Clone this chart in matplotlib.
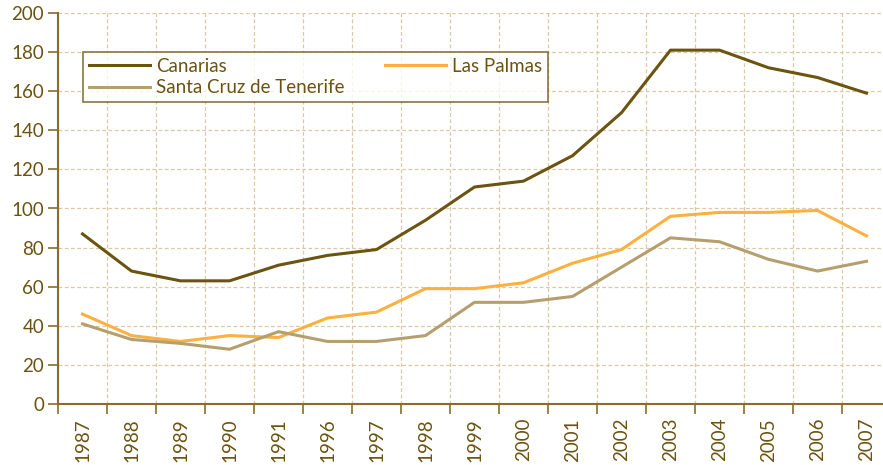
import matplotlib
matplotlib.use("Agg")
import matplotlib.pyplot as plt

years = ["1987", "1988", "1989", "1990", "1991", "1996", "1997", "1998", "1999",
         "2000", "2001", "2002", "2003", "2004", "2005", "2006", "2007"]
canarias = [87, 68, 63, 63, 71, 76, 79, 94, 111, 114, 127, 149, 181, 181, 172, 167, 159]
las_palmas = [46, 35, 32, 35, 34, 44, 47, 59, 59, 62, 72, 79, 96, 98, 98, 99, 86]
santa_cruz = [41, 33, 31, 28, 37, 32, 32, 35, 52, 52, 55, 70, 85, 83, 74, 68, 73]
y_ticks = [0, 20, 40, 60, 80, 100, 120, 140, 160, 180, 200]

plt.rcParams['font.family'] = ['Lato', 'DejaVu Sans']
txt = "#6b5210"
axc = "#8a6d2a"
grid_c = "#dcc9a3"

fig = plt.figure(figsize=(8.83, 4.65), dpi=100)
W, H = 883, 465
ax = fig.add_axes([58 / W, (H - 404) / H, (891 - 58) / W, (404 - 13) / H])

x = list(range(len(years)))
l1, = ax.plot(x, canarias, color="#6b5410", lw=2.2, label="Canarias")
l2, = ax.plot(x, las_palmas, color="#fbb040", lw=2.2, label="Las Palmas")
l3, = ax.plot(x, santa_cruz, color="#b59f6e", lw=2.2, label="Santa Cruz de Tenerife")

ax.set_xlim(-0.5, len(years) - 0.5)
ax.set_ylim(0, 200)
ax.set_yticks(y_ticks)
ax.set_xticks([i - 0.5 for i in range(len(years) + 1)], minor=False)
ax.set_xticklabels([""] * (len(years) + 1))
ax.set_xticks(x, minor=True)
ax.set_xticklabels(years, minor=True, rotation=90, fontsize=13.5, color=txt)
ax.tick_params(axis='x', which='minor', length=0, pad=10)
ax.tick_params(axis='x', which='major', length=7, width=1.2, color=axc, direction='out')
ax.tick_params(axis='y', length=7, width=1.2, color=axc, labelsize=13.5, labelcolor=txt, pad=3)

for s in ["top", "right"]:
    ax.spines[s].set_visible(False)
for s in ["left", "bottom"]:
    ax.spines[s].set_color(axc)
    ax.spines[s].set_linewidth(1.5)

ax.grid(True, which='major', color=grid_c, linestyle=(0, (3, 2)), linewidth=0.9)
ax.set_axisbelow(True)

leg = ax.legend(handles=[l1, l3, l2], ncol=2, loc='upper left',
                bbox_to_anchor=(0.030, 0.780, 0.558, 0.120), mode='expand',
                frameon=True, fancybox=False, edgecolor="#6b5410", fontsize=13.5,
                borderaxespad=0, handlelength=3.3, handletextpad=0.3,
                labelspacing=0.25, borderpad=0.3, columnspacing=1.0)
leg.get_frame().set_linewidth(1.2)
for t in leg.get_texts():
    t.set_color(txt)

fig.savefig("out.png", dpi=100)
